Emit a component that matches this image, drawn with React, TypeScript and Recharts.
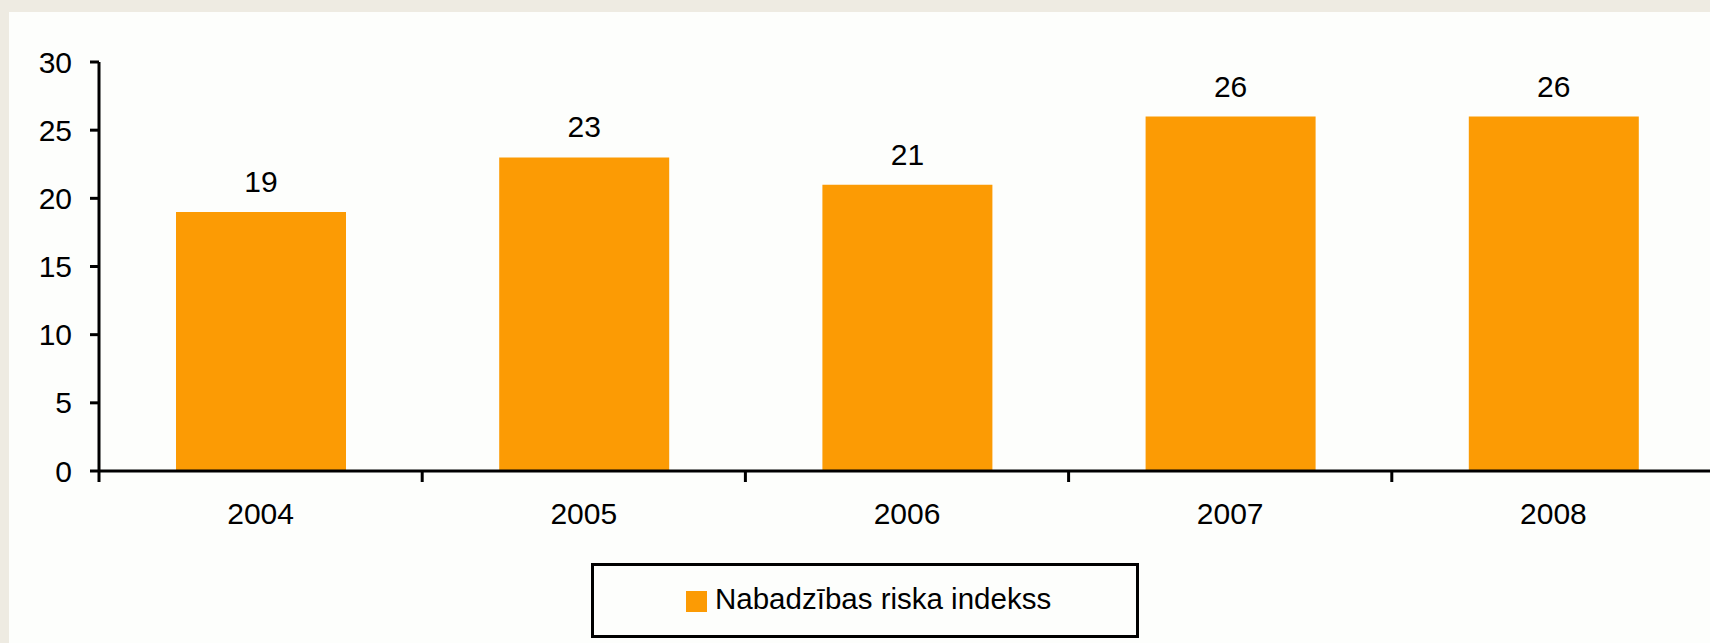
import React from "react";
import { BarChart, Bar, XAxis, YAxis, LabelList, Legend } from "recharts";

const categories = ["2004", "2005", "2006", "2007", "2008"];
const values = [19, 23, 21, 26, 26];
const yTicks = [0, 5, 10, 15, 20, 25, 30];
const seriesName = "Nabadzības riska indekss";
const barColor = "#FC9B04";

const data = categories.map((c, i) => ({ year: c, value: values[i] }));

const FONT = "'Liberation Sans', Arial, sans-serif";

const XTick = (props: any) => {
  const { x, y, payload, index, visibleTicksCount } = props;
  const half = payload && typeof payload.offset === "number" ? payload.offset : 0;
  const isLast = index === visibleTicksCount - 1;
  return (
    <g>
      <line x1={x - half} x2={x - half} y1={y} y2={y + 11} stroke="#000" strokeWidth={3} />
      {isLast && (
        <line x1={x + half} x2={x + half} y1={y} y2={y + 11} stroke="#000" strokeWidth={3} />
      )}
      <text x={x} y={y + 53} textAnchor="middle" fill="#000" fontSize={30} fontFamily={FONT}>
        {payload.value}
      </text>
    </g>
  );
};

const LegendBox = () => (
  <div
    style={{
      boxSizing: "border-box",
      width: 548,
      height: 75,
      border: "3px solid #000",
      position: "relative",
      background: "#FDFEFC",
    }}
  >
    <div
      style={{
        position: "absolute",
        left: 92,
        top: 25,
        width: 21,
        height: 21,
        background: barColor,
      }}
    />
    <div
      style={{
        position: "absolute",
        left: 121,
        top: 15,
        fontSize: 29.5,
        lineHeight: "36px",
        fontFamily: FONT,
        color: "#000",
        whiteSpace: "nowrap",
      }}
    >
      {seriesName}
    </div>
  </div>
);

export default function App() {
  return (
    <div
      style={{
        position: "fixed",
        left: 0,
        top: 0,
        width: 1710,
        height: 643,
        overflow: "hidden",
        background: "#EEEBE2",
      }}
    >
      <div
        style={{
          position: "absolute",
          left: 9,
          top: 12,
          right: 0,
          bottom: 0,
          background: "#FDFEFC",
        }}
      />
      <div style={{ position: "absolute", left: 0, top: 0 }}>
        <BarChart
          width={1730}
          height={643}
          data={data}
          margin={{ top: 62, right: 15, left: 0, bottom: 112 }}
          barSize={170}
        >
          <XAxis
            dataKey="year"
            height={60}
            axisLine={{ stroke: "#000", strokeWidth: 3 }}
            tickLine={false}
            tickSize={0}
            tickMargin={0}
            tick={<XTick />}
            interval={0}
          />
          <YAxis
            width={99}
            domain={[0, 30]}
            ticks={yTicks}
            interval={0}
            axisLine={{ stroke: "#000", strokeWidth: 3 }}
            tickLine={{ stroke: "#000", strokeWidth: 3 }}
            tickSize={9}
            tickMargin={18}
            tick={{ fill: "#000", fontSize: 30, fontFamily: FONT }}
          />
          <Legend
            layout="vertical"
            align="center"
            verticalAlign="middle"
            wrapperStyle={{ left: 591, top: 563, width: 548, height: 75 }}
            content={() => <LegendBox />}
          />
          <Bar dataKey="value" name={seriesName} fill={barColor} isAnimationActive={false}>
            <LabelList
              dataKey="value"
              position="top"
              offset={20}
              fill="#000"
              fontSize={30}
              fontFamily={FONT}
            />
          </Bar>
        </BarChart>
      </div>
    </div>
  );
}
